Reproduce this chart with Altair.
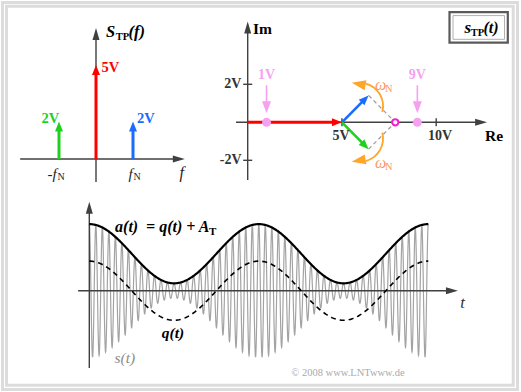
import math
import altair as alt
import numpy as np
import pandas as pd

W, H = 521, 392
SERIF = "Liberation Serif"
AXC = "#404040"

# ---------------- data ----------------
# spectrum S_TP(f)
spec_freq = [-1, 0, 1]                 # in units of f_N
spec_amp = [2, 5, 2]                   # V
spec_color = ["#1fd01f", "#ff0000", "#1a6cff"]
spec_label = ["2V", "5V", "2V"]

# phasor diagram
carrier_amp = 5.0
side_amp = 2.0
phase_deg = 45.0
env_extremes = [1, 9]                  # pink markers (V)
env_labels = ["1V", "9V"]
re_ticks = [5, 10]
re_tick_labels = ["5V", "10V"]
im_ticks = [2, -2]
im_tick_labels = ["2V", "-2V"]

# time signal
A_T = 5.0
A_N = 4.0
carrier_per_period = 26
n_periods = 2

# ---------------- panel geometry ----------------
def geom(ox, oy, sx, sy):
    return dict(ox=ox, oy=oy, sx=sx, sy=sy,
                xs=alt.Scale(domain=[-ox / sx, (W - ox) / sx], nice=False, zero=False),
                ys=alt.Scale(domain=[(oy - H) / sy, oy / sy], nice=False, zero=False))

SPEC = geom(96, 159, 37.0, 18.8)
PHAS = geom(247.7, 122.3, 18.85, 19.0)
TIME = geom(89.3, 290.7, 169.5, 7.4)


def enc(g, two=False):
    e = dict(x=alt.X("x:Q", scale=g["xs"], axis=None),
             y=alt.Y("y:Q", scale=g["ys"], axis=None))
    if two:
        e["x2"] = alt.X2("x2:Q")
        e["y2"] = alt.Y2("y2:Q")
    return e


def head_shape(head_len, head_w):
    w = head_w / head_len / 2
    return f"M0,0 L{-w:.3f},1 L{w:.3f},1 Z"


def arrows(segs, g, color, head_len, head_w, width):
    rs, rh = [], []
    for (x0, y0, x1, y1) in segs:
        dxp = (x1 - x0) * g["sx"]
        dyp = (y1 - y0) * g["sy"]
        L = math.hypot(dxp, dyp)
        ux, uy = dxp / L, dyp / L
        cut = 0.6 * head_len
        rs.append(dict(x=x0, y=y0, x2=x1 - ux * cut / g["sx"], y2=y1 - uy * cut / g["sy"]))
        rh.append(dict(x=x1, y=y1, ang=math.degrees(math.atan2(dxp, dyp)) % 360))
    shaft = alt.Chart(pd.DataFrame(rs)).mark_rule(
        color=color, strokeWidth=width, strokeCap="butt").encode(**enc(g, True))
    head = heads(rh, g, color, head_len, head_w)
    return [shaft, head]


def heads(rows, g, color, head_len, head_w):
    return alt.Chart(pd.DataFrame(rows)).mark_point(
        shape=head_shape(head_len, head_w), size=4 * head_len ** 2,
        filled=True, color=color, strokeWidth=0, opacity=1
    ).encode(**enc(g), angle=alt.Angle("ang:Q", scale=None))


def texts(rows, g, **kw):
    df = pd.DataFrame(rows, columns=["x", "y", "text"])
    base = dict(font=SERIF, baseline="middle", align="left")
    base.update(kw)
    return alt.Chart(df).mark_text(**base).encode(**enc(g), text="text:N")


def segs_rule(rows, g, **kw):
    return alt.Chart(pd.DataFrame(rows, columns=["x", "y", "x2", "y2"])).mark_rule(**kw).encode(**enc(g, True))


# ---------------- frame & legend box ----------------
one = pd.DataFrame({"k": [0]})
frame = [
    alt.Chart(one).mark_rect(filled=False, stroke="#dcdcdc", strokeWidth=3).encode(
        x=alt.value(2.5), x2=alt.value(517.5), y=alt.value(2.5), y2=alt.value(389.5)),
    alt.Chart(one).mark_rect(filled=False, stroke="#dcdcdc", strokeWidth=3).encode(
        x=alt.value(6.5), x2=alt.value(513.2), y=alt.value(6.3), y2=alt.value(385.2)),
    alt.Chart(one).mark_rect(filled=False, stroke="#5a5a5a", strokeWidth=2.2).encode(
        x=alt.value(449.5), x2=alt.value(507.8), y=alt.value(12.2), y2=alt.value(42.6)),
    alt.Chart(one).mark_rect(filled=False, stroke="#b0b0b0", strokeWidth=1).encode(
        x=alt.value(453), x2=alt.value(504.5), y=alt.value(15.6), y2=alt.value(39.3)),
    alt.Chart(one).mark_text(font=SERIF, fontSize=17, fontStyle="italic", fontWeight="bold",
                             align="left", baseline="middle", text="s", color="black").encode(
        x=alt.value(464.5), y=alt.value(27.5)),
    alt.Chart(one).mark_text(font=SERIF, fontSize=10.5, fontWeight="bold",
                             align="left", baseline="middle", text="TP", color="black").encode(
        x=alt.value(470.8), y=alt.value(32.5)),
    alt.Chart(one).mark_text(font=SERIF, fontSize=16, fontStyle="italic", fontWeight="bold",
                             align="left", baseline="middle", text="(t)", color="black").encode(
        x=alt.value(483.5), y=alt.value(27.5)),
]

# ---------------- spectrum panel ----------------
g = SPEC
spec_layers = []
spec_layers += arrows([(-2.05, 0, 2.4, 0)], g, AXC, 12, 7, 1.4)
spec_layers += arrows([(0, -1.22, 0, 6.97)], g, AXC, 12, 7, 1.4)
for f, a, c in zip(spec_freq, spec_amp, spec_color):
    spec_layers += arrows([(f, 0, f, a)], g, c, 10, 8, 3)
spec_layers += [
    texts([(0.270, 6.755, "S")], g, fontSize=16.5, fontStyle="italic", fontWeight="bold", color="black"),
    texts([(0.535, 6.50, "TP")], g, fontSize=10.5, fontWeight="bold", color="black"),
    texts([(0.880, 6.755, "(f)")], g, fontSize=16.5, fontStyle="italic", fontWeight="bold", color="black"),
    texts([(0.149, 4.814, spec_label[1])], g, fontSize=14.5, fontWeight="bold", color=spec_color[1]),
    texts([(-1.473, 2.154, spec_label[0])], g, fontSize=14.5, fontWeight="bold", color=spec_color[0]),
    texts([(1.108, 2.154, spec_label[2])], g, fontSize=14.5, fontWeight="bold", color=spec_color[2]),
    texts([(-1.311, -0.80, "-f"), (0.878, -0.80, "f")], g, fontSize=15, fontStyle="italic", color="#222"),
    texts([(-1.041, -0.96, "N"), (1.014, -0.96, "N")], g, fontSize=10, color="#222"),
    texts([(2.257, -0.771, "f")], g, fontSize=16, fontStyle="italic", color="#222"),
]
spec_chart = alt.layer(*spec_layers)

# ---------------- phasor panel ----------------
g = PHAS
ph = math.radians(phase_deg)
blue_tip = (carrier_amp + side_amp * math.cos(ph), side_amp * math.sin(ph))
green_tip = (carrier_amp + side_amp * math.cos(ph), -side_amp * math.sin(ph))
sum_re = carrier_amp + 2 * side_amp * math.cos(ph)

ph_layers = []
ph_layers += arrows([(-0.62, 0, 12.7, 0)], g, AXC, 12, 7, 1.4)
ph_layers += arrows([(0, -3.04, 0, 5.3)], g, AXC, 12, 7, 1.4)
ph_layers.append(segs_rule([(v, -0.21, v, 0.21) for v in re_ticks] +
                           [(-0.24, v, 0.24, v) for v in im_ticks], g, color=AXC, strokeWidth=1.4))
ph_layers.append(segs_rule([(blue_tip[0], blue_tip[1], sum_re, 0),
                            (green_tip[0], green_tip[1], sum_re, 0)], g,
                           color="#9a9a9a", strokeWidth=1.2, strokeDash=[4, 3]))
ph_layers += arrows([(0, 0, carrier_amp, 0)], g, "#ff0000", 10, 8, 3)
ph_layers += arrows([(carrier_amp, 0, blue_tip[0], blue_tip[1])], g, "#1a6cff", 10, 8, 2.6)
ph_layers += arrows([(carrier_amp, 0, green_tip[0], green_tip[1])], g, "#1fd01f", 10, 8, 2.6)
# rotation arcs
arc_df = pd.DataFrame({"x": [5.957], "y": [0.858]})
arc_df2 = pd.DataFrame({"x": [5.957], "y": [-0.858]})
ph_layers.append(alt.Chart(arc_df).mark_arc(radius=24, radius2=22.2, theta=0.244, theta2=1.833,
                                            color="#ffa52a").encode(**enc(g)))
ph_layers.append(alt.Chart(arc_df2).mark_arc(radius=24, radius2=22.2, theta=1.309, theta2=2.897,
                                             color="#ffa52a").encode(**enc(g)))
ph_layers.append(heads([dict(x=5.52, y=2.08, ang=280), dict(x=5.52, y=-2.08, ang=260)],
                       g, "#ffa52a", 14, 10))
# pink pointers and markers
pink = "#f7a0ef"
for v in env_extremes:
    ph_layers += arrows([(v, 1.95, v, 0.47)], g, pink, 12, 9, 1.6)
ph_layers.append(alt.Chart(pd.DataFrame({"x": env_extremes, "y": [0, 0]})).mark_point(
    shape="circle", size=80, filled=True, color=pink, opacity=1, strokeWidth=0).encode(**enc(g)))
ph_layers.append(alt.Chart(pd.DataFrame({"x": [sum_re], "y": [0]})).mark_point(
    shape="circle", size=40, filled=False, stroke="#f020cc", fill="white", strokeWidth=2,
    opacity=1).encode(**enc(g)))
ph_layers += [
    texts([(0.281, 4.911, "Im"), (12.589, -0.721, "Re")], g, fontSize=15.5, fontWeight="bold", color="black"),
    texts([(-0.329, t, l) for t, l in zip(im_ticks, im_tick_labels)], g, fontSize=14,
          fontWeight="bold", color="#333", align="right"),
    texts([(4.95, -0.721, re_tick_labels[0]), (10.202, -0.721, re_tick_labels[1])], g, fontSize=14,
          fontWeight="bold", color="#333", align="center"),
    texts([(v, 2.489, l) for v, l in zip(env_extremes, env_labels)], g, fontSize=14,
          fontWeight="bold", color=pink, align="center"),
    texts([(6.753, 1.963, "ω"), (6.753, -2.158, "ω")], g, fontSize=16, fontStyle="italic", color="#ff9466"),
    texts([(7.284, 1.753, "N"), (7.284, -2.353, "N")], g, fontSize=10.5, color="#ff9466"),
]
ph_chart = alt.layer(*ph_layers)

# ---------------- time panel ----------------
g = TIME
t = np.linspace(0, n_periods, 2601)
a_t = A_T + A_N * np.cos(2 * np.pi * t)
q_t = A_N * np.cos(2 * np.pi * t)
s_t = a_t * np.cos(2 * np.pi * carrier_per_period * t)
te = np.linspace(0, n_periods, 401)

tm_layers = [
    alt.Chart(pd.DataFrame({"x": t, "y": s_t})).mark_line(color="#a3a3a3", strokeWidth=1.2).encode(**enc(g)),
]
tm_layers += arrows([(-0.066, 0, 2.175, 0)], g, AXC, 12, 7, 1.4)
tm_layers += arrows([(0, -10.45, 0, 12.03)], g, AXC, 12, 7, 1.4)
tm_layers += [
    alt.Chart(pd.DataFrame({"x": te, "y": A_N * np.cos(2 * np.pi * te)})).mark_line(
        color="black", strokeWidth=1.6, strokeDash=[5, 4]).encode(**enc(g)),
    alt.Chart(pd.DataFrame({"x": te, "y": A_T + A_N * np.cos(2 * np.pi * te)})).mark_line(
        color="black", strokeWidth=2.2).encode(**enc(g)),
    texts([(0.152, 8.608, "a(t)")], g, fontSize=16, fontStyle="italic", fontWeight="bold", color="black"),
    texts([(0.335, 8.608, "= q(t) + A")], g, fontSize=16, fontStyle="italic", fontWeight="bold", color="black"),
    texts([(0.706, 7.865, "T")], g, fontSize=11, fontWeight="bold", color="black"),
    texts([(0.494, -5.716, "q(t)")], g, fontSize=15.5, fontStyle="italic", fontWeight="bold",
          color="black", align="center"),
    texts([(0.149, -9.135, "s(t)")], g, fontSize=15.5, fontStyle="italic", color="#8c8c8c"),
    texts([(2.203, -1.622, "t")], g, fontSize=17, fontStyle="italic", color="#333", align="center"),
    texts([(1.526, -11.08, "© 2008 www.LNTwww.de")], g, fontSize=10.5, color="#aaaaaa", align="center"),
]
tm_chart = alt.layer(*tm_layers)

chart = alt.layer(alt.layer(*frame), spec_chart, ph_chart, tm_chart).resolve_scale(
    x="independent", y="independent"
).properties(
    width=W, height=H, padding=0, autosize=alt.AutoSizeParams(type="none"),
    background="white"
).configure_view(strokeWidth=0)

chart.save("out.html", embed_options={"renderer": "svg", "actions": False})
